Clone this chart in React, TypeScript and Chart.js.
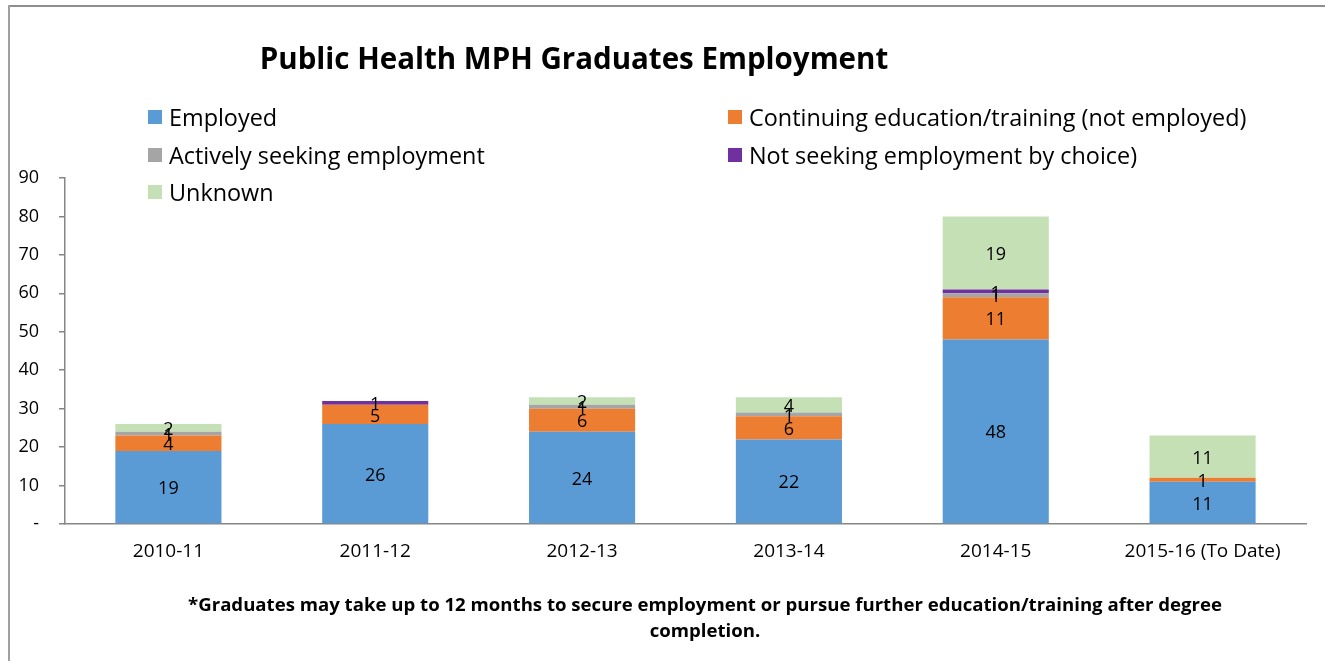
import React, { useEffect, useRef } from "react";
import { Chart, registerables } from "chart.js";

Chart.register(...registerables);

const categories = ["2010-11", "2011-12", "2012-13", "2013-14", "2014-15", "2015-16 (To Date)"];
const employed = [19, 26, 24, 22, 48, 11];
const continuing = [4, 5, 6, 6, 11, 1];
const seeking = [1, 0, 1, 1, 1, 0];
const notSeeking = [0, 1, 0, 0, 1, 0];
const unknown = [2, 0, 2, 4, 19, 11];
const seriesNames = [
  "Employed",
  "Continuing education/training (not employed)",
  "Actively seeking employment",
  "Not seeking employment by choice)",
  "Unknown",
];
const seriesColors = ["#5B9BD5", "#ED7D31", "#A5A5A5", "#7030A0", "#C5E0B4"];
const yTicks = [0, 10, 20, 30, 40, 50, 60, 70, 80, 90];
const titleText = "Public Health MPH Graduates Employment";
const footnote =
  "*Graduates may take up to 12 months to secure employment or pursue further education/training after degree completion.";

const FONT = "'Open Sans', 'Noto Sans', sans-serif";

const valueLabels = {
  id: "valueLabels",
  afterDatasetsDraw(chart: any) {
    const ctx = chart.ctx;
    ctx.save();
    ctx.fillStyle = "#000";
    ctx.font = `18px ${FONT}`;
    ctx.textAlign = "center";
    ctx.textBaseline = "middle";
    chart.data.datasets.forEach((ds: any, i: number) => {
      const meta = chart.getDatasetMeta(i);
      meta.data.forEach((el: any, j: number) => {
        const v = ds.data[j];
        if (!v) return;
        const y = (el.y + el.base) / 2 + 2;
        ctx.fillText(String(v), el.x, y);
      });
    });
    ctx.restore();
  },
};

export default function App() {
  const ref = useRef<HTMLCanvasElement>(null);
  useEffect(() => {
    const all = [employed, continuing, seeking, notSeeking, unknown];
    const chart = new Chart(ref.current!, {
      type: "bar",
      data: {
        labels: categories,
        datasets: all.map((d, i) => ({
          label: seriesNames[i],
          data: d,
          backgroundColor: seriesColors[i],
          borderWidth: 0,
          barPercentage: 0.513,
          categoryPercentage: 1,
        })),
      },
      options: {
        animation: false,
        responsive: false,
        maintainAspectRatio: false,
        layout: { padding: { left: 0, top: 178, right: 19, bottom: 97 } },
        plugins: { legend: { display: false }, title: { display: false }, tooltip: { enabled: false } },
        scales: {
          x: {
            stacked: true,
            grid: { display: false },
            border: { color: "#868686", width: 1.5 },
            ticks: { color: "#000", font: { family: FONT, size: 19 }, padding: 8 },
            afterFit: (s: any) => {
              s.height = 40;
            },
          },
          y: {
            stacked: true,
            min: 0,
            max: 90,
            afterBuildTicks: (s: any) => {
              s.ticks = yTicks.map((v) => ({ value: v }));
            },
            grid: { drawOnChartArea: false, drawTicks: true, tickLength: 6, color: "#868686", lineWidth: 1.5 },
            border: { color: "#868686", width: 1.5 },
            ticks: {
              color: "#000",
              font: { family: FONT, size: 18 },
              padding: 20,
              callback: (v: any) => (v === 0 ? "-" : String(v)),
            },
            afterFit: (s: any) => {
              s.width = 65;
            },
          },
        },
      },
      plugins: [valueLabels],
    });
    return () => chart.destroy();
  }, []);

  const legendPos = [
    { left: 148, top: 117 },
    { left: 728, top: 117 },
    { left: 148, top: 155 },
    { left: 728, top: 155 },
    { left: 148, top: 192 },
  ];

  return (
    <div style={{ position: "fixed", left: 0, top: 0, width: 1325, height: 661, overflow: "hidden", background: "#fff", fontFamily: FONT }}>
      <div style={{ position: "absolute", left: 8, top: 5, width: 1317, height: 2, background: "#8E8E8E" }} />
      <div style={{ position: "absolute", left: 8, top: 5, width: 2, height: 656, background: "#A0A0A0" }} />
      <canvas ref={ref} width={1325} height={661} style={{ position: "absolute", left: 0, top: 0 }} />
      <div style={{ position: "absolute", left: 0, width: 1148, top: 38, textAlign: "center", fontWeight: 700, fontSize: 29.5, lineHeight: "40px", color: "#000", whiteSpace: "nowrap" }}>
        {titleText}
      </div>
      {seriesNames.map((n, i) => (
        <div key={n} style={{ position: "absolute", left: legendPos[i].left, top: legendPos[i].top - 16, height: 32, display: "flex", alignItems: "center", fontSize: 23.4, color: "#000", whiteSpace: "nowrap" }}>
          <span style={{ display: "inline-block", width: 14, height: 14, background: seriesColors[i], marginRight: 7 }} />
          <span>{n}</span>
        </div>
      ))}
      <div style={{ position: "absolute", left: 170, width: 1070, top: 591, textAlign: "center", fontWeight: 700, fontSize: 18.6, lineHeight: "26px", color: "#000" }}>
        {footnote}
      </div>
    </div>
  );
}
